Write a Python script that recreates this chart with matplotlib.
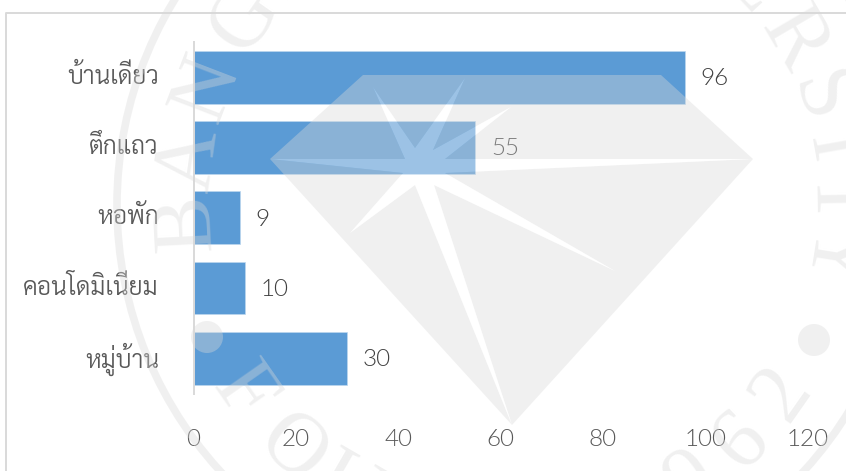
import math

import matplotlib
matplotlib.use("Agg")
import matplotlib.pyplot as plt
from matplotlib import font_manager as fm
from matplotlib.patches import Circle, PathPatch, Polygon
from matplotlib.path import Path
from matplotlib.transforms import ScaledTranslation

categories = ["หมู่บ้าน", "คอนโดมิเนียม", "หอพัก", "ตึกแถว", "บ้านเดี่ยว"]
values = [30, 10, 9, 55, 96]
x_ticks = [0, 20, 40, 60, 80, 100, 120]

# seal lettering around the ring: character and clockwise angle from the top
ring_letters = [("B", 267), ("A", 278), ("N", 291), ("G", 305), ("K", 318),
                ("E", 47), ("R", 59.6), ("S", 70.8), ("I", 80), ("T", 89), ("Y", 99)]
lower_letters = [("2", 125), ("6", 136), ("9", 147), ("U", 210), ("O", 222), ("F", 235)]

# seal outline in pixels
diamond = [(363, 75), (661, 75), (753, 159), (512, 425), (270, 159)]
star = [(753, 159), (445, 173), (615, 271), (434, 185), (512, 425), (415, 185),
        (350, 233), (403, 173), (270, 159), (405, 159), (373, 87), (415, 148),
        (465, 78), (433, 150), (511, 107), (445, 159)]

WIDTH, HEIGHT = 846, 471
BAR_COLOR = "#5b9bd5"
LABEL_COLOR = "#595959"
VALUE_COLOR = "#404040"
RULE_COLOR = "#d9d9d9"


def light_font(family):
    # pick the file with the Light cut, the weight lookup lands on Hairline for some families
    for entry in fm.fontManager.ttflist:
        name = entry.fname.split("/")[-1]
        if entry.name == family and "-Light." in name:
            return fm.FontProperties(fname=entry.fname)
    return fm.FontProperties(family=family)


number_font = light_font("Lato")
number_font.set_size(17.5)
thai_font = light_font("Sarabun")
thai_font.set_size(17.8)

fig = plt.figure(figsize=(WIDTH / 100, HEIGHT / 100), dpi=100)
ax = fig.add_axes([193.5 / WIDTH, 1 - 393.5 / HEIGHT, 614 / WIDTH, 351.5 / HEIGHT])

positions = list(range(len(categories)))
ax.barh(positions, values, height=0.75, color=BAR_COLOR, edgecolor="#bdd7ee", linewidth=0.5)
ax.set_xlim(0, 120)
ax.set_ylim(-0.5, len(categories) - 0.5)

for pos, value in zip(positions, values):
    ax.annotate(str(value), (value, pos), xytext=(11.5, -1), textcoords="offset points",
                va="center", ha="left", fontproperties=number_font, color=VALUE_COLOR)

ax.set_yticks(positions)
ax.set_yticklabels(categories, fontproperties=thai_font, color=LABEL_COLOR)
ax.set_xticks(x_ticks)
ax.set_xticklabels([str(t) for t in x_ticks], fontproperties=number_font, color=LABEL_COLOR)
ax.tick_params(axis="both", length=0)
ax.tick_params(axis="y", pad=25)
ax.tick_params(axis="x", pad=25.5)
for side in ["top", "right", "bottom"]:
    ax.spines[side].set_visible(False)
ax.spines["left"].set_color(RULE_COLOR)
ax.spines["left"].set_linewidth(1.4)

# the Thai labels sit a little high against the bars
lift = ScaledTranslation(0, 2 / 72, fig.dpi_scale_trans)
for label in ax.get_yticklabels():
    label.set_transform(label.get_transform() + lift)

# overlay in pixel coordinates, drawn above the chart
overlay = fig.add_axes([0, 0, 1, 1], zorder=5)
overlay.set_xlim(0, WIDTH)
overlay.set_ylim(HEIGHT, 0)
overlay.axis("off")

# chart frame
overlay.plot([6, 6, WIDTH], [HEIGHT, 13, 13], color=RULE_COLOR, linewidth=1.4, zorder=0)

# diamond with the star cut out of it, the star only brightens what is below
outer = diamond + [diamond[0]]
hole = star[::-1] + [star[-1]]
vertices = outer + hole
codes = ([Path.MOVETO] + [Path.LINETO] * (len(outer) - 2) + [Path.CLOSEPOLY]
         + [Path.MOVETO] + [Path.LINETO] * (len(hole) - 2) + [Path.CLOSEPOLY])
overlay.add_patch(PathPatch(Path(vertices, codes), facecolor=RULE_COLOR, alpha=0.38, linewidth=0))
overlay.add_patch(Polygon(star, closed=True, facecolor="white", alpha=0.4, linewidth=0))

# ring and the two dots
cx, cy = 512, 205
overlay.add_patch(Circle((cx, cy), 395, fill=False, edgecolor=RULE_COLOR, linewidth=5.5, alpha=0.38))
overlay.add_patch(Circle((207, 337), 16, facecolor=RULE_COLOR, alpha=0.38, linewidth=0))
overlay.add_patch(Circle((814, 340), 16, facecolor=RULE_COLOR, alpha=0.38, linewidth=0))

for letter, angle in ring_letters:
    rad = math.radians(angle)
    overlay.text(cx + 325 * math.sin(rad), cy - 325 * math.cos(rad), letter, rotation=-angle,
                 rotation_mode="anchor", ha="center", va="center", fontsize=62,
                 family="Liberation Serif", color=RULE_COLOR, alpha=0.38)
for letter, angle in lower_letters:
    rad = math.radians(angle)
    overlay.text(cx + 330 * math.sin(rad), cy - 330 * math.cos(rad), letter, rotation=180 - angle,
                 rotation_mode="anchor", ha="center", va="center", fontsize=62,
                 family="Liberation Serif", color=RULE_COLOR, alpha=0.38)

fig.savefig("out.png", dpi=100)
